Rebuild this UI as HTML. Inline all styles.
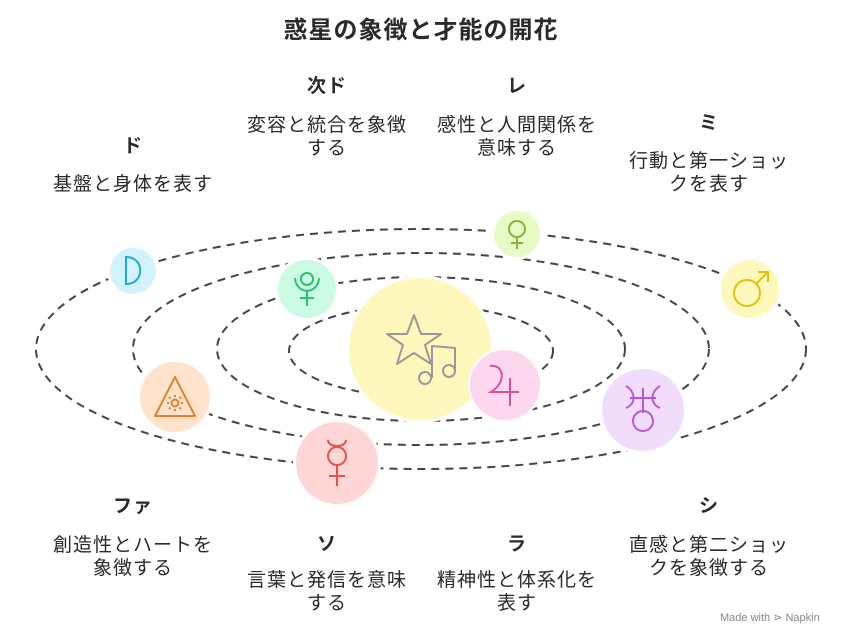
<!DOCTYPE html>
<html><head><meta charset="utf-8"><style>
body{margin:0;width:842px;height:635px;background:#fff;position:relative;overflow:hidden;font-family:"Liberation Sans","Noto Sans CJK JP",sans-serif;color:#2a2a2a}
.t{position:absolute;width:240px;text-align:center;font-size:19px;letter-spacing:1px;line-height:23px;white-space:nowrap}
.b{font-weight:bold}
</style></head><body>
<svg width="842" height="635" style="position:absolute;left:0;top:0">
<g fill="none" stroke="#444" stroke-width="2" stroke-dasharray="8 6">
<ellipse cx="421" cy="349" rx="385" ry="120"/>
<ellipse cx="421" cy="349" rx="288" ry="96"/>
<ellipse cx="421" cy="349" rx="204" ry="72"/>
<ellipse cx="421" cy="351" rx="132" ry="46"/>
</g>
<g fill="#fff"><circle cx="420" cy="349" r="74"/><circle cx="643" cy="410" r="44"/><circle cx="750" cy="289" r="32"/><circle cx="517" cy="234" r="26"/><circle cx="133" cy="271" r="26"/><circle cx="307" cy="289" r="32"/><circle cx="175" cy="397" r="38"/><circle cx="337" cy="463" r="44"/></g>
<circle cx="420" cy="349" r="71" fill="#fff8bd"/>
<g fill="none" stroke="#999" stroke-width="2" stroke-linejoin="round">
<path d="M414 315 L421 334 L441 334 L425 345 L431 364 L414 353 L397 364 L403 345 L387 334 L407 334 Z"/>
<path d="M432 352 L432 346 L455 348 L455 370 M432 352 L432 378"/>
<circle cx="425" cy="378" r="6"/><circle cx="449" cy="371" r="6"/>
</g>
<circle cx="505" cy="385" r="36" fill="#fcd7ee" stroke="#fff" stroke-width="2"/>
<g fill="none" stroke="#d94fa0" stroke-width="2"><path d="M490 366 C504 364 507 382 491 392 L519 392 M510 378 L510 406"/></g>
<circle cx="643" cy="410" r="41" fill="#f2dcfc"/>
<g fill="none" stroke="#b557db" stroke-width="2"><path d="M626 386 C636 392 636 404 626 408 M660 386 C650 392 650 404 660 408 M630 398 L656 398 M643 388 L643 413"/><circle cx="643" cy="421" r="10"/></g>
<circle cx="750" cy="289" r="29" fill="#fff8bd"/>
<g fill="none" stroke="#e0c00f" stroke-width="2"><circle cx="747" cy="293" r="13"/><path d="M756 284 L768 272 M758 272 L768 272 L768 282"/></g>
<circle cx="517" cy="234" r="23" fill="#e7fbc4"/>
<g fill="none" stroke="#86b23a" stroke-width="2"><circle cx="517" cy="229" r="8"/><path d="M517 237 L517 249 M511 243 L523 243"/></g>
<circle cx="133" cy="271" r="23" fill="#d3f3fc"/>
<path d="M126 257 L126 284 C145 284 145 257 126 257 Z" fill="none" stroke="#1eaad8" stroke-width="2"/>
<circle cx="307" cy="289" r="29" fill="#cbfbe2"/>
<g fill="none" stroke="#2fbf70" stroke-width="2"><circle cx="307" cy="279" r="6"/><path d="M295 278 C296 295 318 295 319 278 M307 291 L307 306 M300 298 L314 298"/></g>
<circle cx="175" cy="397" r="35" fill="#ffe3cc"/>
<g fill="none" stroke="#e0822a" stroke-width="2" stroke-linejoin="round"><path d="M175 377 L155 416 L195 416 Z"/><circle cx="175" cy="403" r="3.5"/><path d="M175 395 v2 M175 409 v2 M167 403 h2 M181 403 h2 M169 397 l1.5 1.5 M179.5 407.5 l1.5 1.5 M181 397 l-1.5 1.5 M170.5 407.5 l-1.5 1.5"/></g>
<circle cx="337" cy="463" r="41" fill="#ffd6d6"/>
<g fill="none" stroke="#e2534d" stroke-width="2"><path d="M328 440 C328 448 346 448 346 440"/><circle cx="337" cy="456" r="9"/><path d="M337 465 L337 486 M329 476 L345 476"/></g>
</svg>
<div class="t b" style="left:171px;width:500px;top:19px;font-size:24px;letter-spacing:1px">惑星の象徴と才能の開花</div>
<div class="t b" style="left:207px;top:75px">次ド</div>
<div class="t" style="left:207px;top:114px">変容と統合を象徴<br>する</div>
<div class="t b" style="left:397px;top:75px">レ</div>
<div class="t" style="left:397px;top:114px">感性と人間関係を<br>意味する</div>
<div class="t b" style="left:13px;top:135px">ド</div>
<div class="t" style="left:13px;top:173px">基盤と身体を表す</div>
<div class="t b" style="left:589px;top:112px">ミ</div>
<div class="t" style="left:589px;top:150px">行動と第一ショッ<br>クを表す</div>
<div class="t b" style="left:13px;top:495px">ファ</div>
<div class="t" style="left:13px;top:534px">創造性とハートを<br>象徴する</div>
<div class="t b" style="left:589px;top:495px">シ</div>
<div class="t" style="left:589px;top:534px">直感と第二ショッ<br>クを象徴する</div>
<div class="t b" style="left:207px;top:533px">ソ</div>
<div class="t" style="left:207px;top:569px">言葉と発信を意味<br>する</div>
<div class="t b" style="left:397px;top:533px">ラ</div>
<div class="t" style="left:397px;top:569px">精神性と体系化を<br>表す</div>
<div style="position:absolute;left:720px;top:611px;font-size:11px;color:#888">Made with ⋗ Napkin</div>
</body></html>
